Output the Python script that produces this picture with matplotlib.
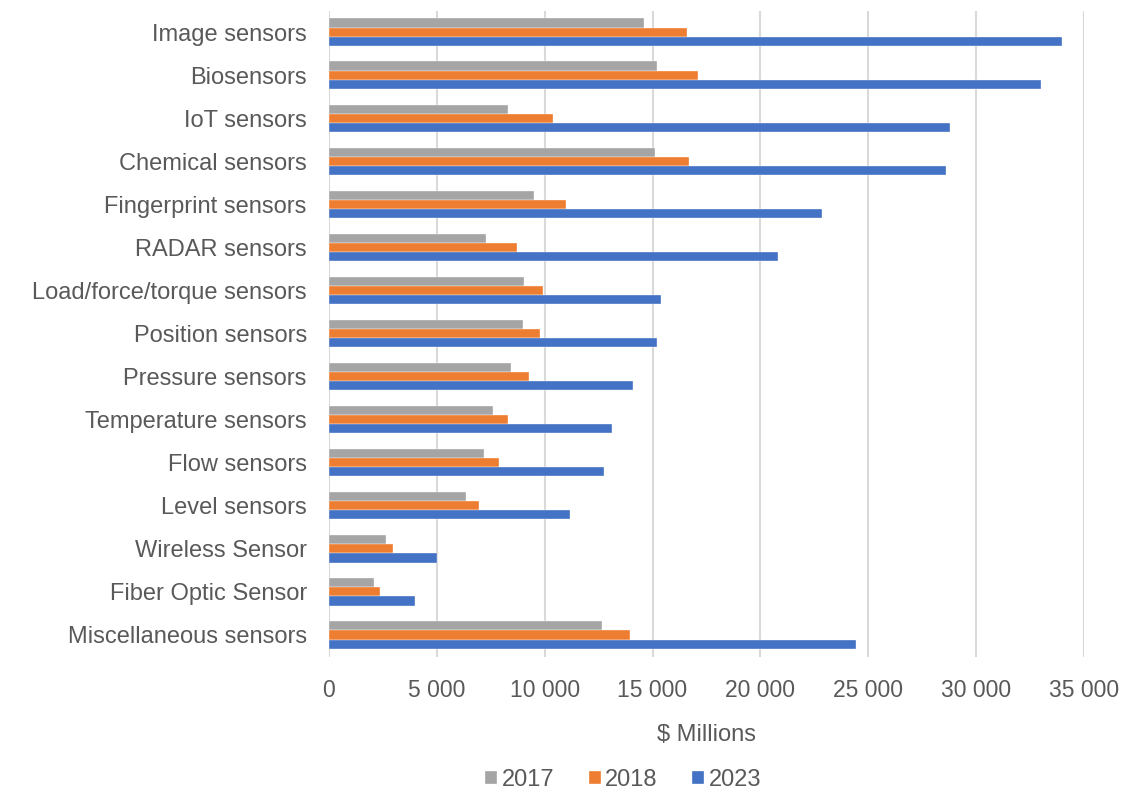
import matplotlib
matplotlib.use("Agg")
import matplotlib.pyplot as plt
import numpy as np

categories = [
    "Image sensors", "Biosensors", "IoT sensors", "Chemical sensors",
    "Fingerprint sensors", "RADAR sensors", "Load/force/torque sensors",
    "Position sensors", "Pressure sensors", "Temperature sensors",
    "Flow sensors", "Level sensors", "Wireless Sensor", "Fiber Optic Sensor",
    "Miscellaneous sensors",
]
values_2017 = [14600, 15200, 8300, 15100, 9500, 7300, 9050, 9000, 8450, 7600,
               7200, 6350, 2650, 2100, 12650]
values_2018 = [16600, 17100, 10400, 16700, 11000, 8700, 9900, 9800, 9250, 8300,
               7900, 6950, 2950, 2350, 13950]
values_2023 = [34000, 33000, 28800, 28600, 22850, 20800, 15400, 15200, 14100, 13100,
               12750, 11150, 5000, 4000, 24450]
series_labels = ["2017", "2018", "2023"]
series_colors = ["#A5A5A5", "#ED7D31", "#4472C4"]
x_ticks = [0, 5000, 10000, 15000, 20000, 25000, 30000, 35000]

text_color = "#595959"
plt.rcParams["font.family"] = ["Liberation Sans", "DejaVu Sans"]

fig = plt.figure(figsize=(11.29, 7.98), dpi=100)
ax = fig.add_axes([0.2914, 0.1773, 0.9601 - 0.2914, 0.9868 - 0.1773])

y = np.arange(len(categories))
h = 0.212
for k, (vals, lab, col) in enumerate(zip([values_2017, values_2018, values_2023],
                                          series_labels, series_colors)):
    ax.barh(y + (k - 1) * h, vals, height=h, color=col, label=lab,
            edgecolor="white", linewidth=0.25, zorder=3)

ax.set_ylim(len(categories) - 0.5, -0.5)
ax.set_xlim(0, 35000)
ax.set_yticks(y)
ax.set_yticklabels(categories, fontsize=17, color=text_color)
ax.set_xticks(x_ticks)
ax.set_xticklabels([f"{v:,}".replace(",", " ") for v in x_ticks],
                   fontsize=16.5, color=text_color)
ax.tick_params(axis="both", length=0)
ax.tick_params(axis="x", pad=16)
ax.tick_params(axis="y", pad=16)
ax.grid(axis="x", color="#D9D9D9", linewidth=1.5, zorder=0)
for s in ax.spines.values():
    s.set_visible(False)

ax.set_xlabel(r"\$ Millions", fontsize=17, color=text_color, labelpad=16)

leg = fig.legend(loc="center", bbox_to_anchor=(0.552, 0.023), ncol=3,
                 frameon=False, fontsize=17, handlelength=0.5, handleheight=0.5,
                 handletextpad=0.2, columnspacing=1.45)
for t in leg.get_texts():
    t.set_color(text_color)

fig.savefig("out.png", dpi=100)
